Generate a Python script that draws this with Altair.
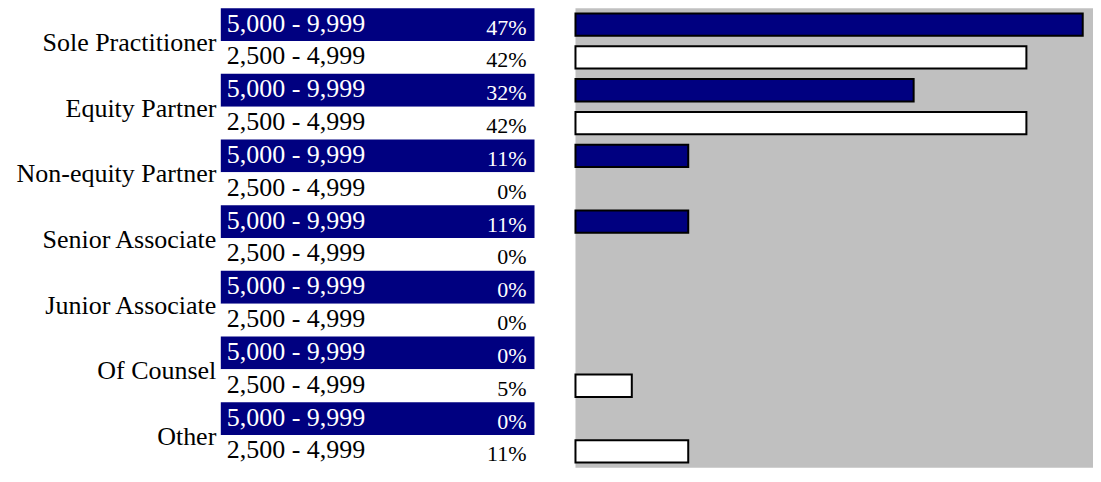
import altair as alt
import pandas as pd

# ---- data ----
categories = ["Sole Practitioner", "Equity Partner", "Non-equity Partner",
              "Senior Associate", "Junior Associate", "Of Counsel", "Other"]
ranges = ["5,000 - 9,999", "2,500 - 4,999"]
share_5000_9999 = [0.4737, 0.3158, 0.1053, 0.1053, 0.0, 0.0, 0.0]
share_2500_4999 = [0.4211, 0.4211, 0.0, 0.0, 0.0, 0.0526, 0.1053]

rows = []
for i, c in enumerate(categories):
    rows.append({"Category": c, "Range": ranges[0], "Share": share_5000_9999[i]})
    rows.append({"Category": c, "Range": ranges[1], "Share": share_2500_4999[i]})
df = pd.DataFrame(rows)

NAVY = "#000080"
FONT = "Liberation Serif"
GRAY = "#C0C0C0"
H = 460

# ---- left: table of ranges and percentages ----
y_left = alt.Y(
    "Category:N",
    sort=categories,
    scale=alt.Scale(domain=categories, paddingInner=0, paddingOuter=0),
    axis=alt.Axis(title=None, domain=False, ticks=False, labelFont=FONT,
                  labelFontSize=26, labelColor="black", labelPadding=5,
                  minExtent=213, maxExtent=213, labelOffset=2, labelLimit=0),
)
yoff_left = alt.YOffset("Range:N", sort=ranges,
                        scale=alt.Scale(domain=ranges, paddingInner=0, paddingOuter=0))

base_left = alt.Chart(df).encode(y=y_left, yOffset=yoff_left)

cells = base_left.mark_rect().encode(
    color=alt.Color("Range:N", scale=alt.Scale(domain=ranges, range=[NAVY, "white"]),
                    legend=None)
)

text_color = alt.condition(alt.datum.Range == ranges[0], alt.value("white"), alt.value("black"))

range_text = base_left.mark_text(
    align="left", baseline="middle", font=FONT, fontSize=26, dx=6, dy=-1
).encode(x=alt.value(0), text="Range:N", color=text_color)

pct_text = base_left.mark_text(
    align="right", baseline="middle", font=FONT, fontSize=22, dx=-8, dy=3
).encode(x=alt.value(314), text=alt.Text("Share:Q", format=".0%"), color=text_color)

left = alt.layer(cells, range_text, pct_text).properties(width=314, height=H)

# ---- right: bars on gray ----
bars = alt.Chart(df).transform_filter(alt.datum.Share > 0).mark_bar(
    stroke="black", strokeWidth=2
).encode(
    x=alt.X("Share:Q", scale=alt.Scale(domain=[0, 0.4833], nice=False, zero=True), axis=None),
    y=alt.Y("Category:N", sort=categories,
            scale=alt.Scale(domain=categories, paddingInner=0, paddingOuter=0), axis=None),
    yOffset=alt.YOffset("Range:N", sort=ranges,
                        scale=alt.Scale(domain=ranges, paddingInner=0.32, paddingOuter=0.16)),
    color=alt.Color("Range:N", scale=alt.Scale(domain=ranges, range=[NAVY, "white"]),
                    legend=None),
).properties(width=518, height=H, view=alt.ViewBackground(fill=GRAY, strokeWidth=0))

chart = alt.hconcat(left, bars, spacing=40).resolve_scale(
    y="independent", yOffset="independent", color="independent", x="independent"
).properties(padding=0, background="white").configure_view(strokeWidth=0)

chart.save("out.html", embed_options={"renderer": "svg", "actions": False})
